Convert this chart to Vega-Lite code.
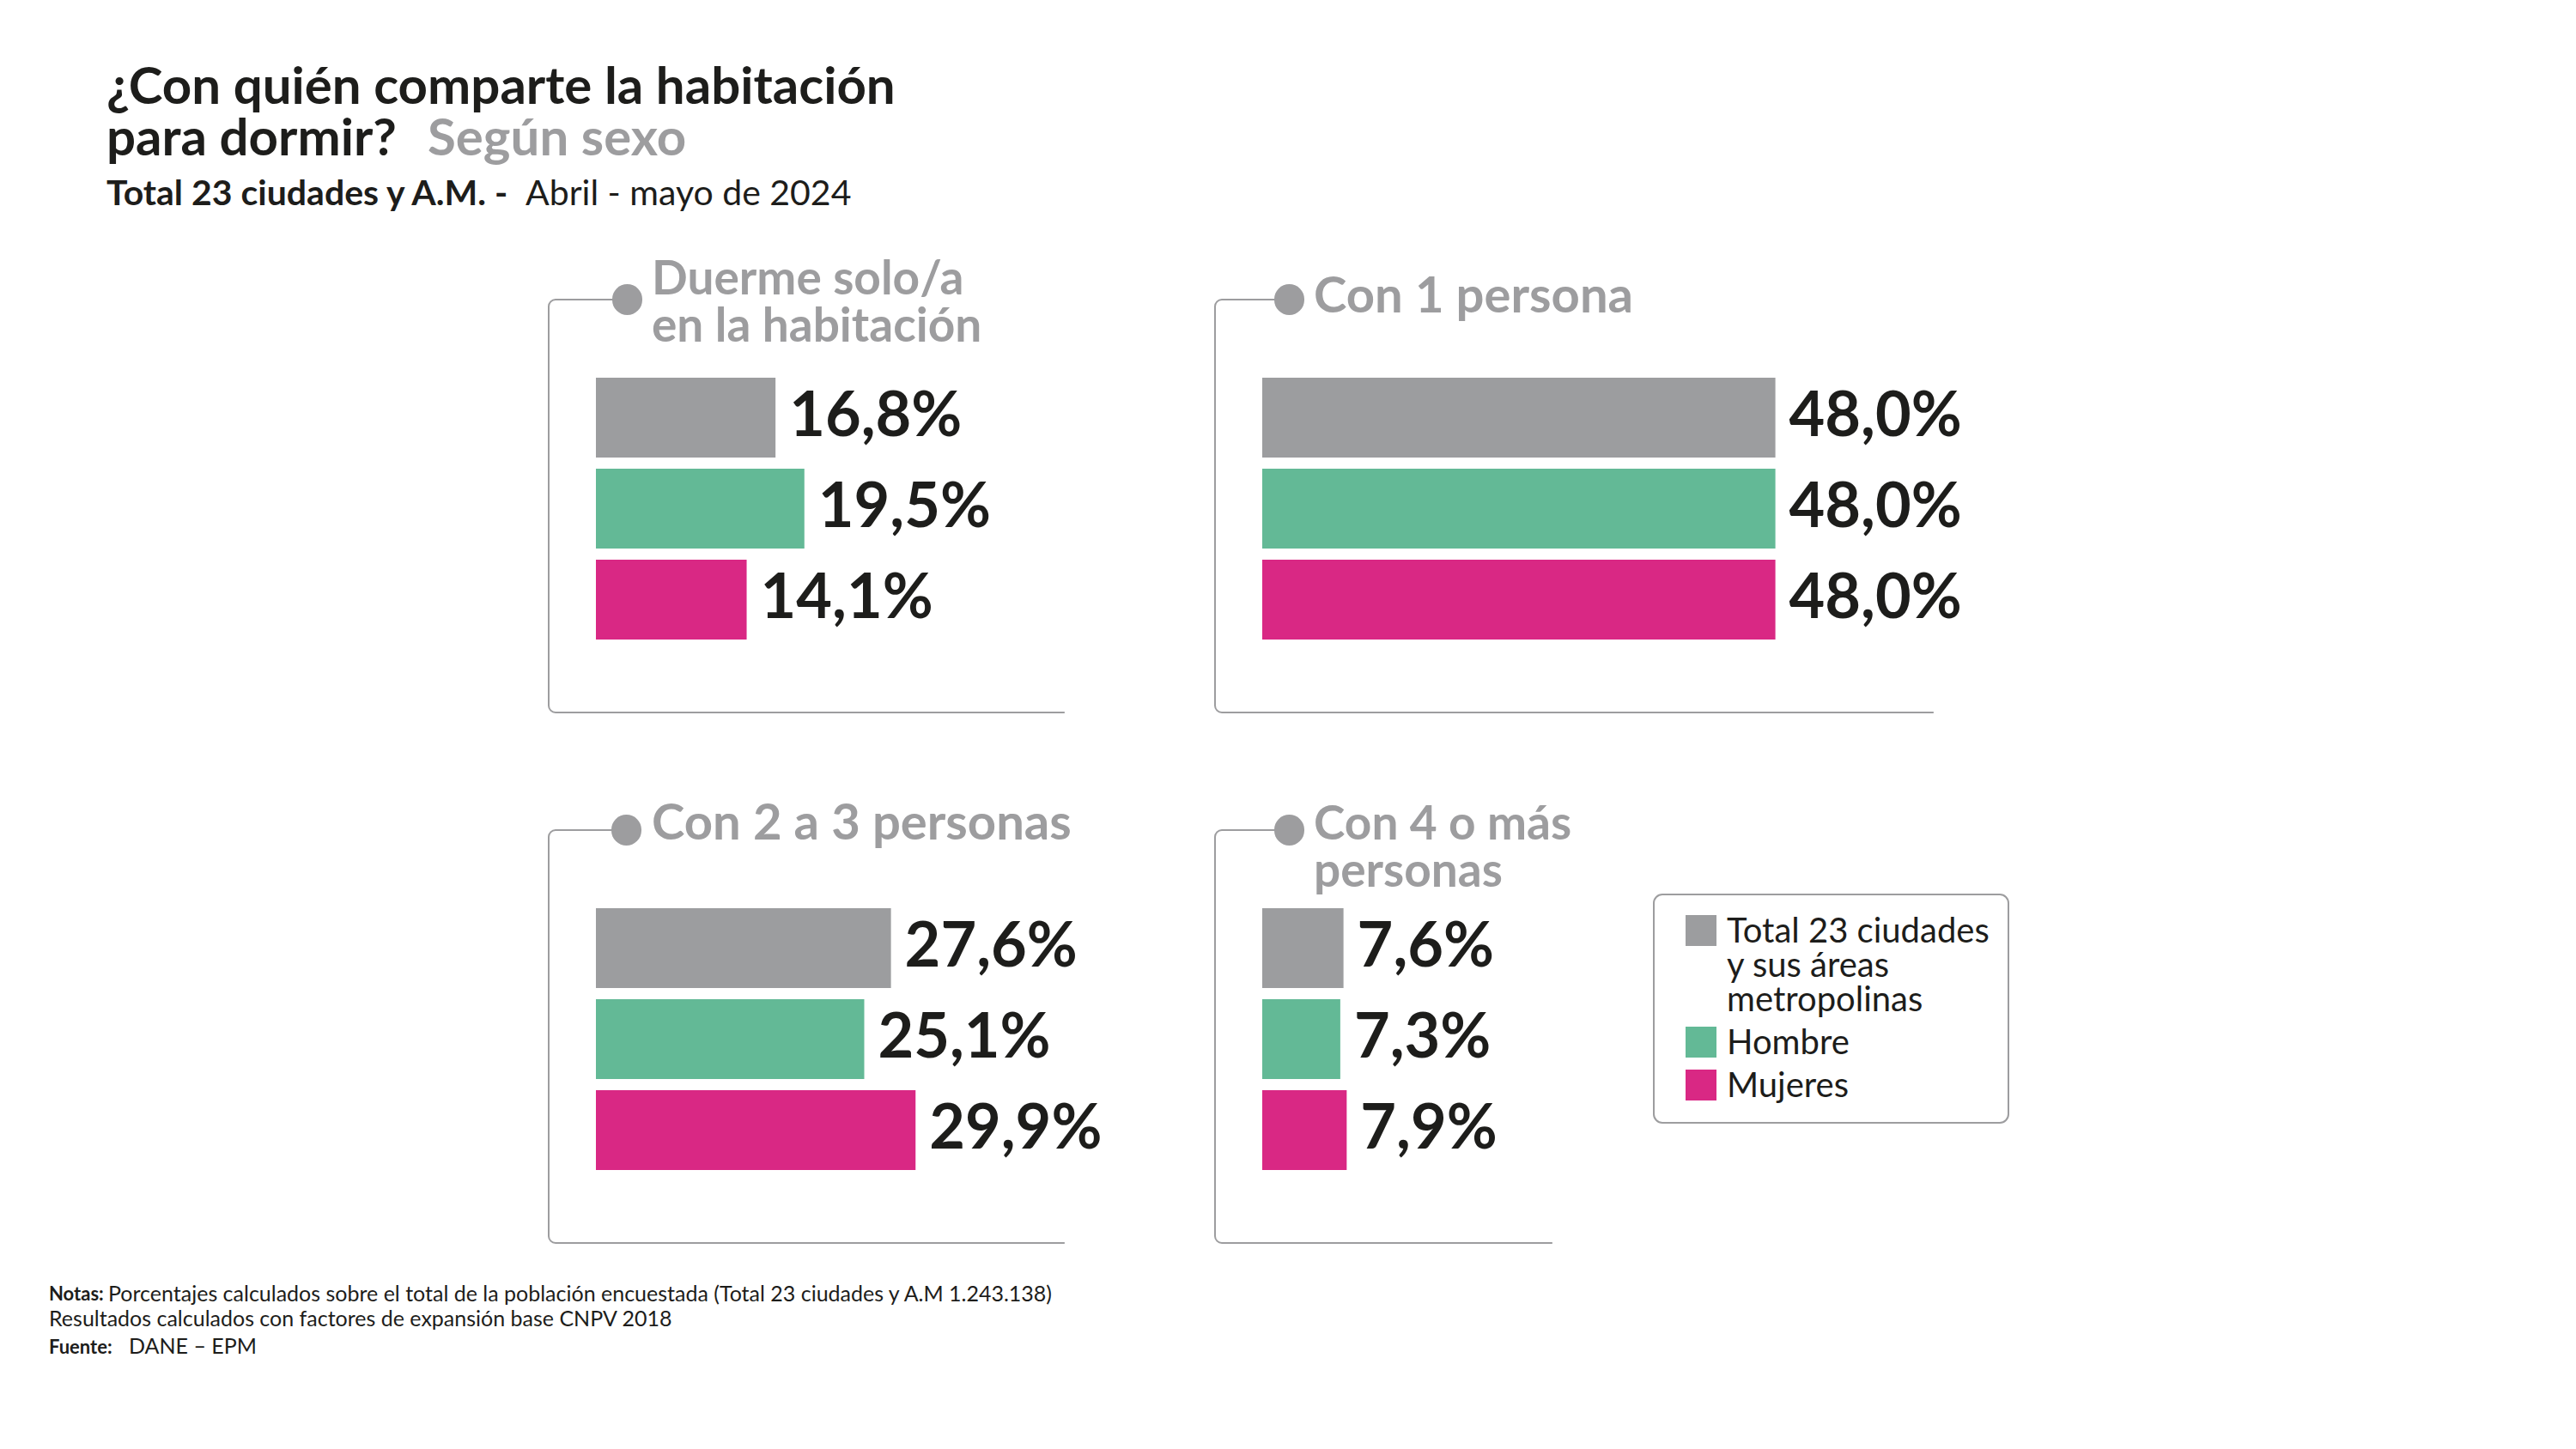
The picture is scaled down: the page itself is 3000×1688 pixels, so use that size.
{
  "$schema": "https://vega.github.io/schema/vega-lite/v6.json",
  "padding": {"left": 57, "top": 73, "right": 20, "bottom": 20},
  "background": "#ffffff",
  "datasets": {
    "d": [
      {"cat": "Duerme solo/a en la habitación", "grupo": "Total 23 ciudades y sus áreas metropolinas", "valor": 16.8},
      {"cat": "Duerme solo/a en la habitación", "grupo": "Hombre", "valor": 19.5},
      {"cat": "Duerme solo/a en la habitación", "grupo": "Mujeres", "valor": 14.1},
      {"cat": "Con 1 persona", "grupo": "Total 23 ciudades y sus áreas metropolinas", "valor": 48.0},
      {"cat": "Con 1 persona", "grupo": "Hombre", "valor": 48.0},
      {"cat": "Con 1 persona", "grupo": "Mujeres", "valor": 48.0},
      {"cat": "Con 2 a 3 personas", "grupo": "Total 23 ciudades y sus áreas metropolinas", "valor": 27.6},
      {"cat": "Con 2 a 3 personas", "grupo": "Hombre", "valor": 25.1},
      {"cat": "Con 2 a 3 personas", "grupo": "Mujeres", "valor": 29.9},
      {"cat": "Con 4 o más personas", "grupo": "Total 23 ciudades y sus áreas metropolinas", "valor": 7.6},
      {"cat": "Con 4 o más personas", "grupo": "Hombre", "valor": 7.3},
      {"cat": "Con 4 o más personas", "grupo": "Mujeres", "valor": 7.9}
    ]
  },
  "bounds": "flush",
  "spacing": 98,
  "vconcat": [
    {
      "hconcat": [
        {"width": 1, "height": 1, "data": {"values": []}, "mark": "point",
         "title": {"text": ["¿Con quién comparte la habitación", "para dormir?"], "anchor": "start", "frame": "group", "orient": "top", "offset": 0, "dx": -515, "dy": -3, "font": "Lato", "fontSize": 60, "fontWeight": "bold", "color": "#1d1d1b", "lineHeight": 60,
                   "subtitle": "Total 23 ciudades y A.M. -", "subtitleFont": "Lato", "subtitleFontSize": 41, "subtitleFontWeight": "bold", "subtitleColor": "#1d1d1b", "subtitlePadding": 13}},
        {"width": 1, "height": 1, "data": {"values": []}, "mark": "point",
         "title": {"text": "Según sexo", "anchor": "start", "frame": "group", "orient": "top", "offset": 0, "dx": -142, "dy": -57, "font": "Lato", "fontSize": 60, "fontWeight": "bold", "color": "#9d9d9f"}},
        {"width": 1, "height": 1, "data": {"values": []}, "mark": "point",
         "title": {"text": "Abril - mayo de 2024", "anchor": "start", "frame": "group", "orient": "top", "offset": 0, "dx": -29, "dy": -3, "font": "Lato", "fontSize": 41, "fontWeight": "normal", "color": "#1d1d1b"}}
      ],
      "spacing": 0,
      "bounds": "flush"
    },
    {
      "concat": [
        {
          "width": 609, "height": 481,
          "data": {"name": "d"},
          "transform": [{"filter": {"field": "cat", "equal": "Duerme solo/a en la habitación"}}],
          "view": {"stroke": "#9d9d9f", "strokeWidth": 2, "strokeDash": [83, 1000.13, 1200], "cornerRadius": 8},
          "title": {"text": ["Duerme solo/a", "en la habitación"], "anchor": "start", "frame": "group", "orient": "top", "offset": 0, "dx": 120, "dy": 79, "font": "Lato", "fontSize": 55, "fontWeight": "bold", "color": "#9d9d9f", "lineHeight": 55},
          "encoding": {
            "y": {"field": "grupo", "type": "nominal", "axis": null, "scale": {"domain": ["Total 23 ciudades y sus áreas metropolinas", "Hombre", "Mujeres"], "paddingInner": 0.1226, "paddingOuter": 0.83, "align": 0.517}},
            "x": {"field": "valor", "type": "quantitative", "scale": {"domain": [-4.418, 44.498]},
                  "axis": {"orient": "top", "domain": false, "labels": false, "grid": false, "title": null, "values": [2.892], "tickSize": 1, "tickWidth": 35, "tickCap": "round", "tickColor": "#9d9d9f"}}
          },
          "layer": [
            {"mark": {"type": "bar"},
             "encoding": {"color": {"field": "grupo", "type": "nominal",
               "scale": {"domain": ["Total 23 ciudades y sus áreas metropolinas", "Hombre", "Mujeres"], "range": ["#9c9d9f", "#63b996", "#d92884"]},
               "legend": {"orient": "none", "legendX": 1287, "legendY": 791, "direction": "vertical", "title": null,
                 "labelExpr": "datum.label == 'Total 23 ciudades y sus áreas metropolinas' ? ['Total 23 ciudades', 'y sus áreas', 'metropolinas'] : datum.label",
                 "encode": {"labels": {"update": {"lineHeight": {"value": 40}, "y": {"value": 2}}}}}}}},
            {"mark": {"type": "text", "align": "left", "baseline": "middle", "dx": 16, "font": "Lato", "fontSize": 72, "fontWeight": "bold", "color": "#1d1d1b"},
             "encoding": {"text": {"field": "valor", "type": "quantitative", "format": "$.1f"}}}
          ]
        },
        {
          "width": 845, "height": 481,
          "data": {"name": "d"},
          "transform": [{"filter": {"field": "cat", "equal": "Con 1 persona"}}],
          "view": {"stroke": "#9d9d9f", "strokeWidth": 2, "strokeDash": [78, 1241.13, 1400], "cornerRadius": 8},
          "title": {"text": "Con 1 persona", "anchor": "start", "frame": "group", "orient": "top", "offset": 0, "dx": 115, "dy": 45, "font": "Lato", "fontSize": 58, "fontWeight": "bold", "color": "#9d9d9f"},
          "encoding": {
            "y": {"field": "grupo", "type": "nominal", "axis": null, "scale": {"domain": ["Total 23 ciudades y sus áreas metropolinas", "Hombre", "Mujeres"], "paddingInner": 0.1226, "paddingOuter": 0.83, "align": 0.517}},
            "x": {"field": "valor", "type": "quantitative", "scale": {"domain": [-4.418, 63.454]},
                  "axis": {"orient": "top", "domain": false, "labels": false, "grid": false, "title": null, "values": [2.49], "tickSize": 1, "tickWidth": 35, "tickCap": "round", "tickColor": "#9d9d9f"}}
          },
          "layer": [
            {"mark": {"type": "bar"},
             "encoding": {"color": {"field": "grupo", "type": "nominal",
               "scale": {"domain": ["Total 23 ciudades y sus áreas metropolinas", "Hombre", "Mujeres"], "range": ["#9c9d9f", "#63b996", "#d92884"]},
               "legend": {"orient": "none", "legendX": 1287, "legendY": 791, "direction": "vertical", "title": null,
                 "labelExpr": "datum.label == 'Total 23 ciudades y sus áreas metropolinas' ? ['Total 23 ciudades', 'y sus áreas', 'metropolinas'] : datum.label",
                 "encode": {"labels": {"update": {"lineHeight": {"value": 40}, "y": {"value": 2}}}}}}}},
            {"mark": {"type": "text", "align": "left", "baseline": "middle", "dx": 16, "font": "Lato", "fontSize": 72, "fontWeight": "bold", "color": "#1d1d1b"},
             "encoding": {"text": {"field": "valor", "type": "quantitative", "format": "$.1f"}}}
          ]
        },
        {
          "width": 609, "height": 481,
          "data": {"name": "d"},
          "transform": [{"filter": {"field": "cat", "equal": "Con 2 a 3 personas"}}],
          "view": {"stroke": "#9d9d9f", "strokeWidth": 2, "strokeDash": [82, 1001.13, 1200], "cornerRadius": 8},
          "title": {"text": "Con 2 a 3 personas", "anchor": "start", "frame": "group", "orient": "top", "offset": 0, "dx": 120, "dy": 41, "font": "Lato", "fontSize": 58, "fontWeight": "bold", "color": "#9d9d9f"},
          "encoding": {
            "y": {"field": "grupo", "type": "nominal", "axis": null, "scale": {"domain": ["Total 23 ciudades y sus áreas metropolinas", "Hombre", "Mujeres"], "paddingInner": 0.1226, "paddingOuter": 0.83, "align": 0.517}},
            "x": {"field": "valor", "type": "quantitative", "scale": {"domain": [-4.418, 44.498]},
                  "axis": {"orient": "top", "domain": false, "labels": false, "grid": false, "title": null, "values": [2.811], "tickSize": 1, "tickWidth": 35, "tickCap": "round", "tickColor": "#9d9d9f"}}
          },
          "layer": [
            {"mark": {"type": "bar"},
             "encoding": {"color": {"field": "grupo", "type": "nominal",
               "scale": {"domain": ["Total 23 ciudades y sus áreas metropolinas", "Hombre", "Mujeres"], "range": ["#9c9d9f", "#63b996", "#d92884"]},
               "legend": {"orient": "none", "legendX": 1287, "legendY": 791, "direction": "vertical", "title": null,
                 "labelExpr": "datum.label == 'Total 23 ciudades y sus áreas metropolinas' ? ['Total 23 ciudades', 'y sus áreas', 'metropolinas'] : datum.label",
                 "encode": {"labels": {"update": {"lineHeight": {"value": 40}, "y": {"value": 2}}}}}}}},
            {"mark": {"type": "text", "align": "left", "baseline": "middle", "dx": 16, "font": "Lato", "fontSize": 72, "fontWeight": "bold", "color": "#1d1d1b"},
             "encoding": {"text": {"field": "valor", "type": "quantitative", "format": "$.1f"}}}
          ]
        },
        {
          "width": 401, "height": 481,
          "data": {"name": "d"},
          "transform": [{"filter": {"field": "cat", "equal": "Con 4 o más personas"}}],
          "view": {"stroke": "#9d9d9f", "strokeWidth": 2, "strokeDash": [78, 797.13, 1000], "cornerRadius": 8},
          "title": {"text": ["Con 4 o más", "personas"], "anchor": "start", "frame": "group", "orient": "top", "offset": 0, "dx": 115, "dy": 96, "font": "Lato", "fontSize": 55, "fontWeight": "bold", "color": "#9d9d9f", "lineHeight": 55},
          "encoding": {
            "y": {"field": "grupo", "type": "nominal", "axis": null, "scale": {"domain": ["Total 23 ciudades y sus áreas metropolinas", "Hombre", "Mujeres"], "paddingInner": 0.1226, "paddingOuter": 0.83, "align": 0.517}},
            "x": {"field": "valor", "type": "quantitative", "scale": {"domain": [-4.418, 27.791]},
                  "axis": {"orient": "top", "domain": false, "labels": false, "grid": false, "title": null, "values": [2.49], "tickSize": 1, "tickWidth": 35, "tickCap": "round", "tickColor": "#9d9d9f"}}
          },
          "layer": [
            {"mark": {"type": "bar"},
             "encoding": {"color": {"field": "grupo", "type": "nominal",
               "scale": {"domain": ["Total 23 ciudades y sus áreas metropolinas", "Hombre", "Mujeres"], "range": ["#9c9d9f", "#63b996", "#d92884"]},
               "legend": {"orient": "none", "legendX": 1287, "legendY": 791, "direction": "vertical", "title": null,
                 "labelExpr": "datum.label == 'Total 23 ciudades y sus áreas metropolinas' ? ['Total 23 ciudades', 'y sus áreas', 'metropolinas'] : datum.label",
                 "encode": {"labels": {"update": {"lineHeight": {"value": 40}, "y": {"value": 2}}}}}}}},
            {"mark": {"type": "text", "align": "left", "baseline": "middle", "dx": 16, "font": "Lato", "fontSize": 72, "fontWeight": "bold", "color": "#1d1d1b"},
             "encoding": {"text": {"field": "valor", "type": "quantitative", "format": "$.1f"}}}
          ]
        }
      ],
      "columns": 2,
      "align": "each",
      "bounds": "flush",
      "spacing": {"row": 137, "column": 167},
      "resolve": {"scale": {"x": "independent", "y": "independent"}, "axis": {"x": "independent", "y": "independent"}}
    },
    {
      "hconcat": [
        {"width": 1, "height": 1, "data": {"values": []}, "mark": "point",
         "title": {"text": "Notas:", "anchor": "start", "frame": "group", "orient": "top", "offset": 0, "dx": -582, "dy": 1104, "font": "Lato", "fontSize": 22, "fontWeight": "bold", "color": "#1d1d1b",
                   "subtitle": "Resultados calculados con factores de expansión base CNPV 2018", "subtitleFont": "Lato", "subtitleFontSize": 25, "subtitleFontWeight": "normal", "subtitleColor": "#1d1d1b", "subtitlePadding": 5}},
        {"width": 1, "height": 1, "data": {"values": []}, "mark": "point",
         "title": {"text": "Porcentajes calculados sobre el total de la población encuestada (Total 23 ciudades y A.M 1.243.138)", "anchor": "start", "frame": "group", "orient": "top", "offset": 0, "dx": -514, "dy": 1074, "font": "Lato", "fontSize": 25, "fontWeight": "normal", "color": "#1d1d1b"}},
        {"width": 1, "height": 1, "data": {"values": []}, "mark": "point",
         "title": {"text": "Fuente:", "anchor": "start", "frame": "group", "orient": "top", "offset": 0, "dx": -584, "dy": 1135, "font": "Lato", "fontSize": 22, "fontWeight": "bold", "color": "#1d1d1b"}},
        {"width": 1, "height": 1, "data": {"values": []}, "mark": "point",
         "title": {"text": "DANE – EPM", "anchor": "start", "frame": "group", "orient": "top", "offset": 0, "dx": -492, "dy": 1135, "font": "Lato", "fontSize": 25, "fontWeight": "normal", "color": "#1d1d1b"}}
      ],
      "spacing": 0,
      "bounds": "flush"
    }
  ],
  "config": {
    "view": {"stroke": null},
    "font": "Lato",
    "locale": {"number": {"decimal": ",", "thousands": ".", "grouping": [3], "currency": ["", "%"]}},
    "legend": {
      "symbolType": "square", "symbolSize": 1296, "symbolStrokeWidth": 0, "symbolOpacity": 1, "symbolOffset": 13,
      "labelFont": "Lato", "labelFontSize": 40, "labelColor": "#1d1d1b", "labelLimit": 1000, "labelOffset": 10, "labelBaseline": "top",
      "rowPadding": 8, "padding": 22, "strokeColor": "#9d9d9f", "strokeWidth": 2, "cornerRadius": 10, "fillColor": "#ffffff"
    }
  }
}
